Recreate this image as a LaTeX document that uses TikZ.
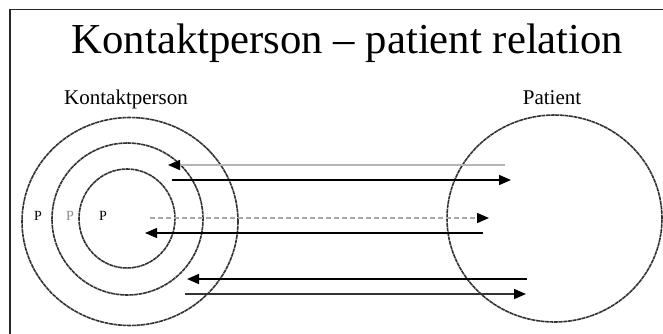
\documentclass[tikz,border=0pt]{standalone}
\usepackage{fontspec}
\setmainfont{Liberation Serif}
\usetikzlibrary{arrows.meta,shapes.geometric}
\definecolor{lightline}{HTML}{B4B4B4}
\definecolor{dashline}{HTML}{A8A8A8}
\tikzset{
  ring/.style={ellipse, draw=black!80, line width=1.6pt, dash pattern=on 4pt off 0.6pt, inner sep=0pt, outer sep=0pt},
  flow/.style={line width=1.6pt, -{Triangle[length=12pt,width=10pt,color=black]}},
  plabel/.style={font=\fontsize{14}{16}\selectfont, anchor=base, inner sep=0pt},
  caption/.style={font=\fontsize{21}{24}\selectfont, anchor=base, inner sep=0pt},
}
\begin{document}
\begin{tikzpicture}[x=1pt,y=-1pt]
\useasboundingbox (0,0) rectangle (663,333);
\fill[white] (0,0) rectangle (663,333);
% frame
\draw[line width=1.8pt, black!85] (10,340) -- (10,9.5) -- (670,9.5);

% title and labels
\node[anchor=base, inner sep=0pt, font=\fontsize{42.7}{48}\selectfont] (title) at (347.5,53) {Kontaktperson -- patient relation};
\node[caption] (kplabel) at (126,104) {Kontaktperson};
\node[caption] (ptlabel) at (552,104) {Patient};

% contact person rings
\node[ring, minimum width=216pt, minimum height=208pt] (outer) at (130,221.5) {};
\node[ring, minimum width=151pt, minimum height=152pt] (middle) at (127.5,219) {};
\node[ring, minimum width=96pt, minimum height=99pt] (inner) at (127,218.5) {};

% patient
\node[ring, minimum width=215pt, minimum height=207pt] (patient) at (554.5,218.5) {};

% P labels
\node[plabel] (p1) at (38,220) {P};
\node[plabel, text=black!45] (p2) at (70,220) {P};
\node[plabel] (p3) at (103,220) {P};

% arrow end points
\coordinate (a1s) at (505,165);  \coordinate (a1e) at (168,165);
\coordinate (a2s) at (172,180);  \coordinate (a2e) at (511,180);
\coordinate (a3s) at (150,218);  \coordinate (a3e) at (489,218);
\coordinate (a4s) at (483,233);  \coordinate (a4e) at (145,233);
\coordinate (a5s) at (527,279);  \coordinate (a5e) at (187,279);
\coordinate (a6s) at (185,294);  \coordinate (a6e) at (526,294);

% arrows
\draw[flow, draw=lightline] (a1s) -- (a1e);
\draw[flow] (a2s) -- (a2e);
\draw[flow, draw=dashline, dash pattern=on 5pt off 3pt] (a3s) -- (a3e);
\draw[flow, line width=1.2pt] (a4s) -- (a4e);
\draw[flow] (a5s) -- (a5e);
\draw[flow, draw=black!80] (a6s) -- (a6e);
\end{tikzpicture}
\end{document}
